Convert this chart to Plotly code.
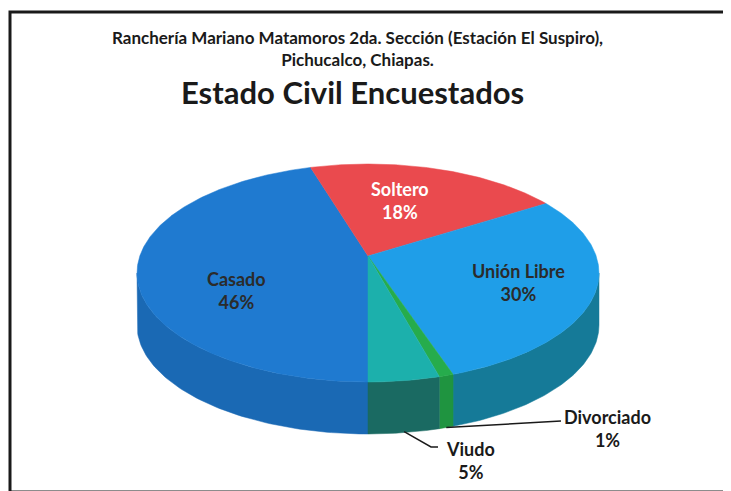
import numpy as np
import plotly.graph_objects as go

# ---- data ----
categories = ["Casado", "Soltero", "Unión Libre", "Divorciado", "Viudo"]
values = [46, 18, 30, 1, 5]
top_colors = ["#1f7ad0", "#ea4a4e", "#1f9ee8", "#26ac4c", "#1cb0ac"]
side_colors = ["#1a69b4", "#c23a3e", "#157a98", "#1f9440", "#1a6a62"]
title_main = "Estado Civil Encuestados"
subtitle = "Ranchería Mariano Matamoros 2da. Sección (Estación El Suspiro),<br>Pichucalco, Chiapas."

# ---- geometry (style) ----
W, H = 731, 491
OFF = 8  # page body margin compensation
cx, cy, rx, ry, depth = 368, 273, 231, 109, 52
apex_dy = -17
start_angle = 180.0
FONT = "Lato"
label_nudge = {"Casado": (13, 13), "Soltero": (-13, -3), "Unión Libre": (10, -4)}

total = float(sum(values))
fig = go.Figure()


def ell(theta_deg, dy=0.0, frac=1.0):
    t = np.radians(theta_deg)
    return cx + frac * rx * np.sin(t), cy - frac * ry * np.cos(t) + dy


# angle ranges
ranges = []
a = start_angle
for v in values:
    b = a + v / total * 360.0
    ranges.append((a, b))
    a = b

# sides (front half only: 90..270 mod 360)
for (a0, b0), col in zip(ranges, side_colors):
    for off in (0, 360, -360):
        lo, hi = max(a0, 90 + off), min(b0, 270 + off)
        if hi > lo:
            th = np.linspace(lo, hi, 80)
            xt, yt = ell(th)
            xb, yb = ell(th[::-1], dy=depth)
            fig.add_trace(go.Scatter(
                x=np.concatenate([xt, xb, xt[:1]]),
                y=np.concatenate([yt, yb, yt[:1]]),
                mode="lines", fill="toself", fillcolor=col,
                line=dict(color=col, width=0.5), hoverinfo="skip", showlegend=False))

# top faces
ax_, ay_ = cx, cy + apex_dy
for (a0, b0), col, name in zip(ranges, top_colors, categories):
    th = np.linspace(a0, b0, max(4, int((b0 - a0) * 2)))
    xs, ys = ell(th)
    fig.add_trace(go.Scatter(
        x=np.concatenate([[ax_], xs, [ax_]]),
        y=np.concatenate([[ay_], ys, [ay_]]),
        mode="lines", fill="toself", fillcolor=col,
        line=dict(color=col, width=0.5), name=name, showlegend=False))

# inside labels
inside_colors = {"Soltero": "white"}
for (a0, b0), name, v in zip(ranges, categories, values):
    mid = (a0 + b0) / 2
    if v >= 10:
        x, y = ell(mid, frac=0.63)
        nx, ny = label_nudge.get(name, (0, 0))
        fig.add_annotation(x=x + nx, y=y - 4 + ny, text=f"<b>{name}<br>{v}%</b>", showarrow=False,
                           font=dict(family=FONT, size=18,
                                     color=inside_colors.get(name, "#2b2b2b")),
                           align="center")

# outside labels with leader lines
outside_pos = {"Divorciado": (607, 428, 561, 421), "Viudo": (470, 460, 438, 447)}
for (a0, b0), name, v in zip(ranges, categories, values):
    if name in outside_pos:
        mid = (a0 + b0) / 2
        px, py = ell(mid, dy=depth)
        tx, ty, lx, ly = outside_pos[name]
        if name == "Viudo":
            xs_l, ys_l = [px, lx - 7, lx], [py - 1, ly, ly]
        else:
            xs_l, ys_l = [px, lx], [py, ly]
        fig.add_trace(go.Scatter(x=xs_l, y=ys_l, mode="lines",
                                 line=dict(color="#1a1a1a", width=1.5),
                                 hoverinfo="skip", showlegend=False))
        fig.add_annotation(x=tx, y=ty, text=f"<b>{name}<br>{v}%</b>", showarrow=False,
                           font=dict(family=FONT, size=18, color="#1a1a1a"), align="center")

# titles
fig.add_annotation(x=357, y=48, text=f"<b>{subtitle}</b>", showarrow=False,
                   font=dict(family=FONT, size=17, color="#1a1a1a"), align="center")
fig.add_annotation(x=352, y=92, text=f"<b>{title_main}</b>", showarrow=False,
                   font=dict(family=FONT, size=31, color="#1a1a1a"), align="center")

# frame
fig.add_shape(type="rect", x0=10, y0=12, x1=727, y1=492,
              line=dict(color="#1a1a1a", width=3))

fig.update_layout(
    width=W - OFF, height=H - OFF, margin=dict(l=0, r=0, t=0, b=0),
    paper_bgcolor="white", plot_bgcolor="white",
    xaxis=dict(range=[OFF, W], visible=False, fixedrange=True),
    yaxis=dict(range=[H, OFF], visible=False, fixedrange=True),
    showlegend=False,
)

fig.write_html("out.html")
